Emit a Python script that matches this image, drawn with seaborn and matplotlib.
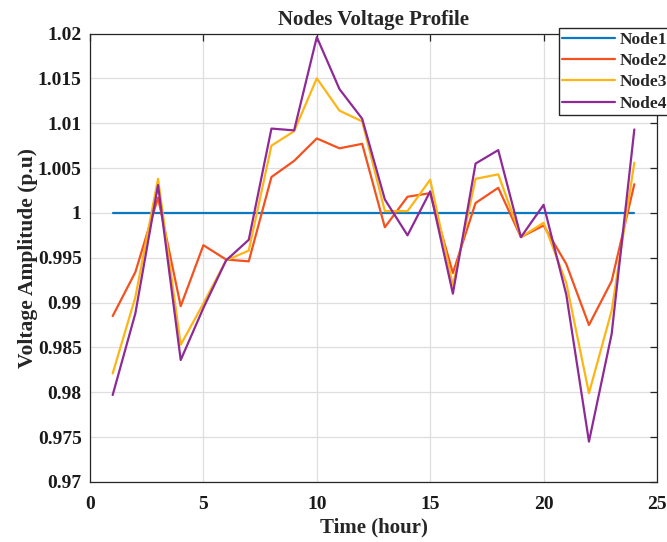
import numpy as np
import pandas as pd
import matplotlib
matplotlib.use("Agg")
import matplotlib.pyplot as plt
import seaborn as sns

# Hourly node voltages (p.u.)
hours = list(range(1, 25))
node1 = [1.0] * 24
node2 = [0.9885, 0.9934, 1.0017, 0.9896, 0.9964, 0.9948, 0.9946, 1.0040,
         1.0058, 1.0083, 1.0072, 1.0077, 0.9984, 1.0018, 1.0022, 0.9933,
         1.0011, 1.0028, 0.9973, 0.9986, 0.9943, 0.9875, 0.9924, 1.0032]
node3 = [0.9821, 0.9906, 1.0038, 0.9853, 0.9899, 0.9947, 0.9958, 1.0075,
         1.0091, 1.0150, 1.0114, 1.0102, 1.0002, 1.0002, 1.0037, 0.9919,
         1.0038, 1.0043, 0.9973, 0.9989, 0.9922, 0.9799, 0.9891, 1.0056]
node4 = [0.9797, 0.9888, 1.0031, 0.9836, 0.9894, 0.9947, 0.9970, 1.0094,
         1.0092, 1.0196, 1.0138, 1.0105, 1.0015, 0.9975, 1.0024, 0.9910,
         1.0055, 1.0070, 0.9973, 1.0009, 0.9909, 0.9745, 0.9865, 1.0093]
node_names = ["Node1", "Node2", "Node3", "Node4"]
colors = ["#0A78C2", "#F4511E", "#FDB515", "#8E2A97"]

x_ticks = [0, 5, 10, 15, 20, 25]
y_ticks = [0.97, 0.975, 0.98, 0.985, 0.99, 0.995, 1.0, 1.005, 1.01, 1.015, 1.02]
y_labels = ["0.97", "0.975", "0.98", "0.985", "0.99", "0.995", "1",
            "1.005", "1.01", "1.015", "1.02"]

df = pd.concat(
    [pd.DataFrame({"hour": hours, "voltage": v, "node": n})
     for n, v in zip(node_names, [node1, node2, node3, node4])],
    ignore_index=True,
)

sns.set_style("white")
plt.rcParams["font.family"] = ["Liberation Serif", "DejaVu Serif"]
plt.rcParams["font.weight"] = "bold"

fig = plt.figure(figsize=(6.67, 5.42), dpi=100)
ax = fig.add_axes([90 / 667, 60 / 542, 567 / 667, 448.5 / 542])

sns.lineplot(data=df, x="hour", y="voltage", hue="node", palette=colors,
             linewidth=1.6, ax=ax, legend=True)

ax.set_xlim(0, 25)
ax.set_ylim(0.97, 1.02)
ax.set_xticks(x_ticks)
ax.set_xticklabels([str(t) for t in x_ticks])
ax.set_yticks(y_ticks)
ax.set_yticklabels(y_labels)
ax.grid(True, color="#DEDEDE", linewidth=0.9)
ax.set_axisbelow(True)
ax.tick_params(direction="in", length=5, width=0.9, color="#262626",
               top=True, right=True, labelsize=14, labelcolor="#1A1A1A")
ax.tick_params(axis="x", pad=10)
ax.tick_params(axis="y", pad=6)
for lab in ax.get_xticklabels() + ax.get_yticklabels():
    lab.set_fontweight("bold")
for s in ax.spines.values():
    s.set_color("#262626")
    s.set_linewidth(0.9)

ax.set_title("Nodes Voltage Profile", fontsize=15, fontweight="bold", pad=6)
ax.set_xlabel("Time (hour)", fontsize=15, fontweight="bold", labelpad=3)
ax.set_ylabel("Voltage Amplitude (p.u)", fontsize=15.5, fontweight="bold",
              labelpad=0)

handles, labels = ax.get_legend_handles_labels()
ax.legend(handles, labels, loc="upper left",
          bbox_to_anchor=(559 / 667, (542 - 28) / 542),
          bbox_transform=fig.transFigure, frameon=True, fancybox=False,
          edgecolor="#262626", framealpha=1,
          prop={"weight": "bold", "size": 12.5},
          handlelength=3.05, handletextpad=0.23, labelspacing=0.3,
          borderpad=0.2, borderaxespad=0)

fig.savefig("out.png", dpi=100)
